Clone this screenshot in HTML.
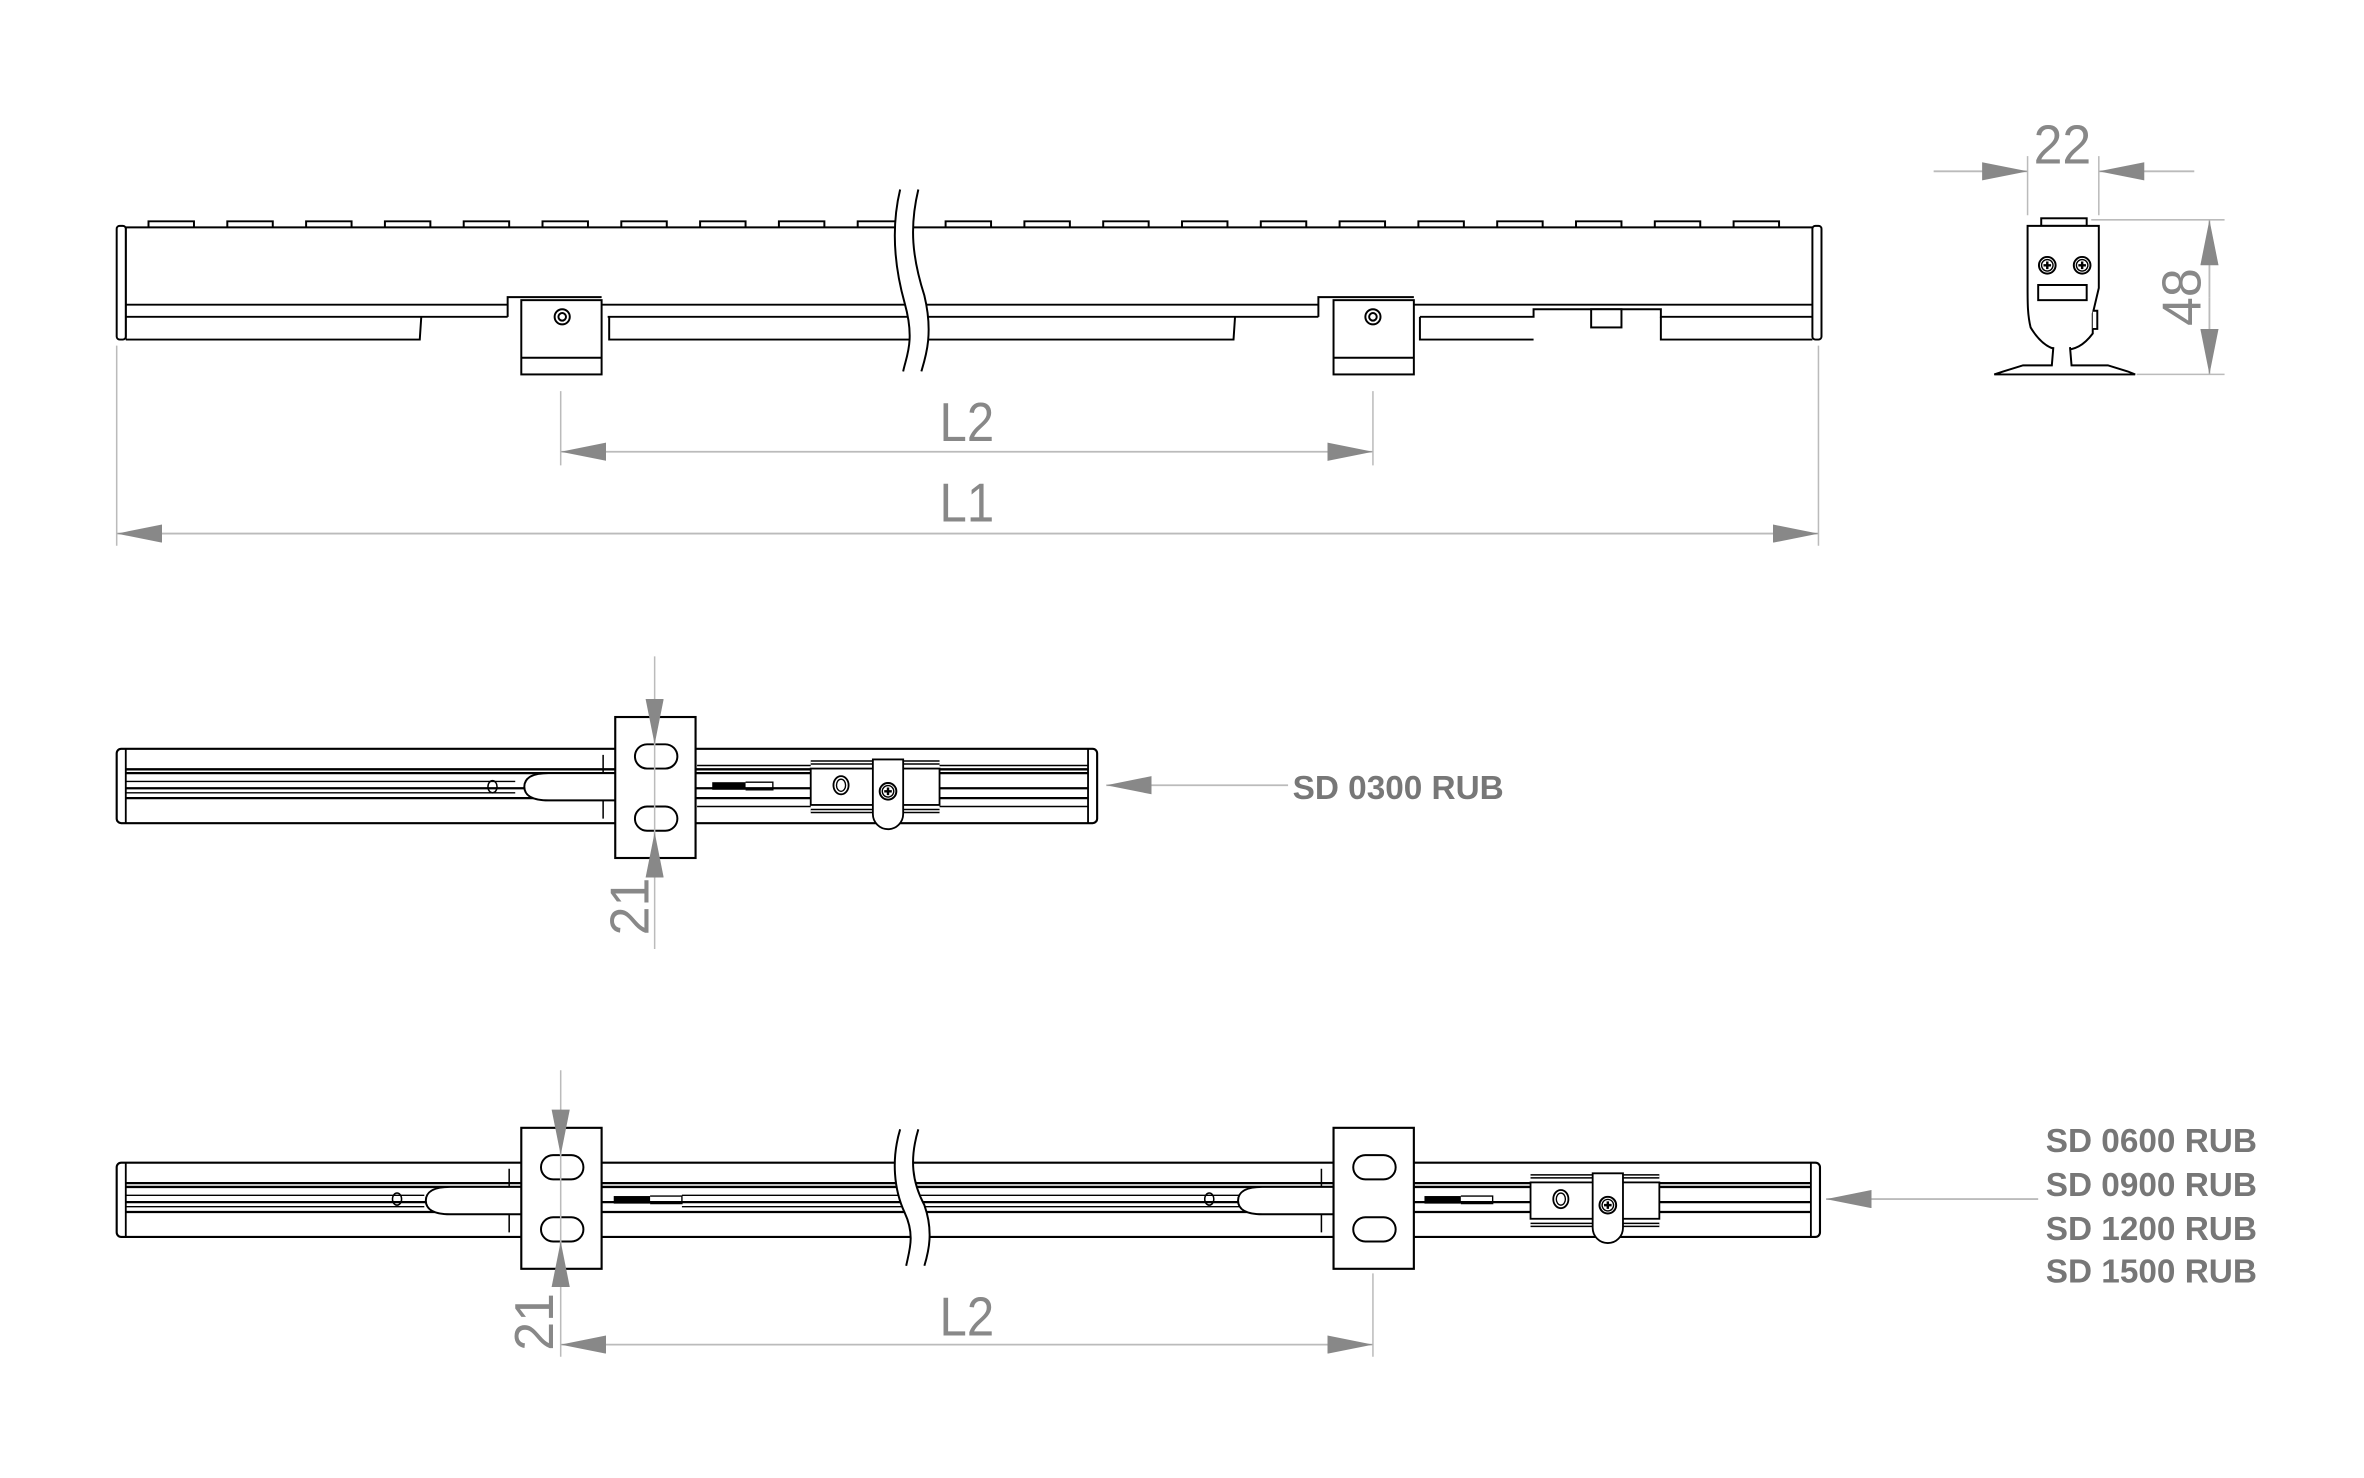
<!DOCTYPE html>
<html><head><meta charset="utf-8"><style>
html,body{margin:0;padding:0;background:#fff;}
svg{display:block;}
text{font-family:"Liberation Sans",sans-serif;}
</style></head><body>
<svg width="2364" height="1478" viewBox="0 0 1560 975" preserveAspectRatio="none" xmlns="http://www.w3.org/2000/svg">
<defs>
<marker id="ah" viewBox="0 0 30 12" refX="30" refY="6" markerWidth="30" markerHeight="12" markerUnits="userSpaceOnUse" orient="auto-start-reverse"><path d="M0,0 L30,6 L0,12 z" fill="#888"/></marker>
<g id="screwP"><circle r="5.5" fill="#fff" stroke="#000" stroke-width="1.3"/><circle r="3.8" fill="none" stroke="#000" stroke-width="0.9"/><path d="M-2.5,0H2.5M0,-2.5V2.5" stroke="#000" stroke-width="1.6"/></g>
<g id="bracket"><rect x="0" y="0" width="53" height="93" fill="#fff" stroke="#000" stroke-width="1.4"/>
<rect x="13" y="18" width="28" height="16" rx="8" fill="#fff" stroke="#000" stroke-width="1.3"/>
<rect x="13" y="59" width="28" height="16" rx="8" fill="#fff" stroke="#000" stroke-width="1.3"/></g>
<g id="clamp"><path d="M0,4H85M0,36H85" stroke="#000" stroke-width="3"/><path d="M0,4H85M0,36H85" stroke="#fff" stroke-width="1"/>
<rect x="0" y="8" width="85" height="24" fill="#fff" stroke="#000" stroke-width="1.2"/>
<ellipse cx="20" cy="19" rx="5" ry="6" fill="#fff" stroke="#000" stroke-width="1.2"/><ellipse cx="20" cy="19" rx="3" ry="4" fill="none" stroke="#000" stroke-width="0.9"/>
<path d="M41,38V2H61V38A10,10 0 0 1 41,38z" fill="#fff" stroke="#000" stroke-width="1.2"/>
<use href="#screwP" x="51" y="23"/></g>
</defs>
<rect width="1560" height="975" fill="#fff"/>

<!-- ===== TOP VIEW ===== -->
<g stroke="#000" stroke-width="1.3" fill="none">
<g fill="#fff">
<path d="M98,150v-4h30v4M150,150v-4h30v4M202,150v-4h30v4M254,150v-4h30v4M306,150v-4h30v4M358,150v-4h30v4M410,150v-4h30v4M462,150v-4h30v4M514,150v-4h30v4M566,150v-4h30v4M624,150v-4h30v4M676,150v-4h30v4M728,150v-4h30v4M780,150v-4h30v4M832,150v-4h30v4M884,150v-4h30v4M936,150v-4h30v4M988,150v-4h30v4M1040,150v-4h30v4M1092,150v-4h30v4M1144,150v-4h30v4"/>
</g>
<path d="M83,150H1196"/>
<path d="M83,201H335M397,201H870M933,201H1196"/>
<path d="M83,209H335M401,209H870M937,209H1012v-5h84v5h100"/>
<path d="M83,224H277l1,-15M402,209v15H814l1,-15M937,209v15H1012M1096,209v15H1196"/>
<rect x="1050" y="204" width="20" height="12" fill="#fff"/>
<path d="M83,224V150" />
<rect x="77" y="149" width="6" height="75" rx="2" fill="#fff"/>
<rect x="1196" y="149" width="6" height="75" rx="2" fill="#fff"/>
<path d="M335,209V196H397"/>
<rect x="344" y="198" width="53" height="49" fill="#fff"/><path d="M344,236H397" />
<circle cx="371" cy="209" r="5"/><circle cx="371" cy="209" r="2.5"/>
<path d="M870,209V196H933"/>
<rect x="880" y="198" width="53" height="49" fill="#fff"/><path d="M880,236H933" />
<circle cx="906" cy="209" r="5"/><circle cx="906" cy="209" r="2.5"/>
</g>
<!-- break -->
<path d="M594,125 C588,150 590,175 597,200 C604,225 598,235 596,245 L608,245 C611,235 616,220 610,195 C602,170 600,150 606,125 Z" fill="#fff" stroke="none"/>
<path d="M594,125 C588,150 590,175 597,200 C604,225 598,235 596,245 M606,125 C600,150 602,170 610,195 C616,220 611,235 608,245" stroke="#000" stroke-width="1.3" fill="none"/>

<!-- dims top -->
<g stroke="#bbb" stroke-width="1"><path d="M370,258V307M906,258V307M77,228V360M1200,228V360"/></g>
<g stroke="#bbb" stroke-width="1.2"><path d="M370,298H906" marker-start="url(#ah)" marker-end="url(#ah)"/><path d="M77,352H1200" marker-start="url(#ah)" marker-end="url(#ah)"/></g>
<text transform="translate(638,291) scale(0.9,1)" font-size="36" fill="#888" text-anchor="middle">L2</text>
<text transform="translate(638,344) scale(0.9,1)" font-size="36" fill="#888" text-anchor="middle">L1</text>

<!-- ===== END VIEW ===== -->
<g stroke="#000" stroke-width="1.3" fill="#fff">
<rect x="1347" y="144" width="30" height="5"/>
<path d="M1338,149H1385V190L1381,207V220C1375,228 1369,231 1361,231C1353,231 1346,226 1340,216C1338,208 1338,200 1338,190Z"/>
<path d="M1381,205H1384V217H1381"/>
<path d="M1355,229L1354,241H1335L1322,245L1316,247H1409L1404,245L1391,241H1367L1366,229"/>
<rect x="1345" y="188" width="32" height="10"/>
</g>
<use href="#screwP" x="1351" y="175"/><use href="#screwP" x="1374" y="175"/>
<g stroke="#bbb" stroke-width="1"><path d="M1338,103V142M1385,103V142M1380,145H1468M1410,247H1468"/></g>
<g stroke="#bbb" stroke-width="1.2"><path d="M1276,113H1338" marker-end="url(#ah)"/><path d="M1448,113H1385" marker-end="url(#ah)"/><path d="M1458,196V145" marker-end="url(#ah)"/><path d="M1458,196V247" marker-end="url(#ah)"/></g>
<text transform="translate(1361,108) scale(0.95,1)" font-size="36" fill="#888" text-anchor="middle">22</text>
<text transform="translate(1452,196) rotate(-90) scale(0.95,1)" font-size="36" fill="#888" text-anchor="middle">48</text>

<!-- ===== MIDDLE VIEW ===== -->
<g stroke="#000" fill="none">
<rect x="77" y="494" width="647" height="49" rx="3" fill="#fff" stroke-width="1.4"/>
<path d="M83,494V543M718,494V543" stroke-width="1.2"/>
<path d="M83,507.5H718M83,510H718M83,520H718M83,526.5H718" stroke-width="1.5"/>
<path d="M83,515.5H340M83,523H340" stroke-width="0.9"/>
<path d="M406,510H362C350,510 346,514 346,519C346,524 350,528 362,528H406" fill="#fff" stroke-width="1.3"/>
<path d="M398,498V510M398,528V540" stroke-width="1"/>
<ellipse cx="325" cy="519" rx="3" ry="4" stroke-width="1"/>
<path d="M460,505H535M460,532H535M620,505H718M620,532H718" stroke-width="1"/>
<rect x="470" y="516" width="22" height="5" fill="#000" stroke="none"/>
<path d="M492,516H510V521H492" stroke-width="0.9"/>
</g>
<use href="#bracket" x="406" y="473"/>
<use href="#clamp" x="535" y="499"/>
<g stroke="#bbb" stroke-width="1"><path d="M432,433V626"/></g>
<g stroke="#bbb" stroke-width="1.2"><path d="M432,461V491" marker-end="url(#ah)"/><path d="M432,579V549" marker-end="url(#ah)"/></g>
<text transform="translate(428,598) rotate(-90) scale(0.95,1)" font-size="36" fill="#888" text-anchor="middle">21</text>
<path d="M850,518H730" stroke="#bbb" stroke-width="1.2" marker-end="url(#ah)"/>
<text x="853" y="527" font-size="22" font-weight="bold" fill="#777">SD 0300 RUB</text>

<!-- ===== BOTTOM VIEW ===== -->
<g stroke="#000" fill="none">
<rect x="77" y="767" width="1124" height="49" rx="3" fill="#fff" stroke-width="1.4"/>
<path d="M83,767V816M1195,767V816" stroke-width="1.2"/>
<path d="M83,780.5H1195M83,783H1195M83,793H1195M83,799.5H1195" stroke-width="1.5"/>
<path d="M83,788.5H280M83,796H280M450,788.5H820M450,796H820" stroke-width="0.9"/>
<path d="M344,783H297C285,783 281,787 281,792C281,797 285,801 297,801H344" fill="#fff" stroke-width="1.3"/>
<path d="M336,771V783M336,801V813" stroke-width="1"/>
<ellipse cx="262" cy="791" rx="3" ry="4" stroke-width="1"/>
<path d="M880,783H833C821,783 817,787 817,792C817,797 821,801 833,801H880" fill="#fff" stroke-width="1.3"/>
<path d="M872,771V783M872,801V813" stroke-width="1"/>
<ellipse cx="798" cy="791" rx="3" ry="4" stroke-width="1"/>
<rect x="405" y="789" width="24" height="5" fill="#000" stroke="none"/>
<path d="M429,789H450V794H429" stroke-width="0.9"/>
<rect x="940" y="789" width="24" height="5" fill="#000" stroke="none"/>
<path d="M964,789H985V794H964" stroke-width="0.9"/>
</g>
<use href="#bracket" x="344" y="744"/>
<use href="#bracket" x="880" y="744"/>
<use href="#clamp" x="1010" y="772"/>
<!-- break -->
<path d="M594,745 C588,765 590,785 597,800 C604,815 600,825 598,835 L610,835 C613,825 616,812 610,795 C602,780 600,765 606,745 Z" fill="#fff" stroke="none"/>
<path d="M594,745 C588,765 590,785 597,800 C604,815 600,825 598,835 M606,745 C600,765 602,780 610,795 C616,812 613,825 610,835" stroke="#000" stroke-width="1.3" fill="none"/>
<g stroke="#bbb" stroke-width="1"><path d="M370,706V895M906,840V895"/></g>
<g stroke="#bbb" stroke-width="1.2"><path d="M370,732V762" marker-end="url(#ah)"/><path d="M370,849V819" marker-end="url(#ah)"/><path d="M370,887H906" marker-start="url(#ah)" marker-end="url(#ah)"/></g>
<text transform="translate(365,872) rotate(-90) scale(0.95,1)" font-size="36" fill="#888" text-anchor="middle">21</text>
<text transform="translate(638,881) scale(0.9,1)" font-size="36" fill="#888" text-anchor="middle">L2</text>
<path d="M1345,791H1205" stroke="#bbb" stroke-width="1.2" marker-end="url(#ah)"/>
<g font-size="22" font-weight="bold" fill="#777">
<text x="1350" y="760">SD 0600 RUB</text>
<text x="1350" y="789">SD 0900 RUB</text>
<text x="1350" y="818">SD 1200 RUB</text>
<text x="1350" y="846">SD 1500 RUB</text>
</g>
</svg>
</body></html>
